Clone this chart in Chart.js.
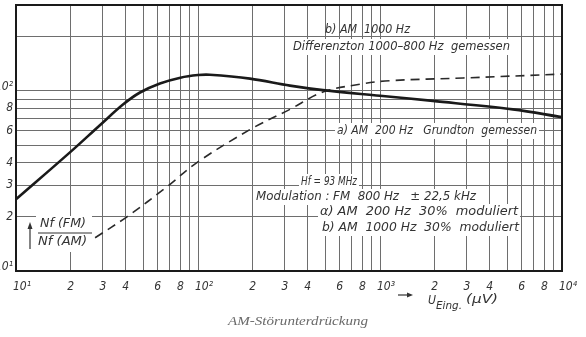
<!DOCTYPE html>
<html><head><meta charset="utf-8">
<script src="https://cdn.jsdelivr.net/npm/chart.js@4"></script>
<style>html,body{margin:0;padding:0;background:#fff}canvas{display:block}</style>
</head><body>
<canvas id="c" width="586" height="337"></canvas>
<script>
// Curve a) AM 200 Hz (solid)
const solidX = [10, 20, 28.9, 38.7, 48, 61.8, 80, 100, 116, 193, 320, 486, 1000, 1950, 5370, 10000];
const solidY = [25, 46, 64.5, 84, 98, 110, 118.5, 122.5, 123, 117, 107, 101, 94, 88, 79, 71.5];
// Curve b) AM 1000 Hz (dashed)
const dashX = [27.2, 40.7, 67.6, 98.6, 193, 320, 486, 777, 1135, 2860, 10000];
const dashY = [15.3, 20, 29.4, 40, 61, 79, 98.6, 109, 114, 118, 124];
// Tick labels
const xTickVals = [10,20,30,40,60,80,100,200,300,400,600,800,1000,2000,3000,4000,6000,8000,10000];
const xTickLabels = ['10¹','2','3','4','6','8','10²','2','3','4','6','8','10³','2','3','4','6','8','10⁴'];
const yTickVals = [10,20,30,40,60,80,100];
const yTickLabels = ['10¹','2','3','4','6','8','10²'];
// Grid lines
const xGridVals = [10,20,30,40,50,60,70,80,90,100,200,300,400,500,600,700,800,900,1000,2000,3000,4000,5000,6000,7000,8000,9000,10000];
const yGridVals = [10,20,30,40,50,60,70,80,90,100,200,300];

const pts = (xs, ys) => xs.map((x,i)=>({x, y: ys[i]}));
const LBL = 'italic 12px "DejaVu Sans Condensed","Liberation Sans Narrow","Liberation Sans",sans-serif';

function fitText(ctx, txt, x, y, w, font, bg) {
  ctx.save();
  ctx.font = font;
  const m = ctx.measureText(txt).width;
  if (bg) { ctx.fillStyle = '#fff'; ctx.fillRect(x-2, y-8, w+4, 16); }
  ctx.translate(x, y);
  ctx.scale(w / m, 1);
  ctx.fillStyle = '#333';
  ctx.textBaseline = 'middle';
  ctx.textAlign = 'left';
  ctx.fillText(txt, 0, 0);
  ctx.restore();
}

const deco = {
  id: 'deco',
  afterDraw(chart) {
    const ctx = chart.ctx, ca = chart.chartArea;
    const xs = chart.scales.x, ys = chart.scales.y;
    ctx.save();
    // frame
    ctx.strokeStyle = '#1a1a1a'; ctx.lineWidth = 2;
    ctx.strokeRect(ca.left, ca.top, ca.right - ca.left, ca.bottom - ca.top);
    // x tick labels
    ctx.font = 'italic 12px "DejaVu Sans Condensed","Liberation Sans",sans-serif';
    ctx.fillStyle = '#333';
    ctx.textBaseline = 'middle';
    xTickVals.forEach((v,i) => {
      const px = xs.getPixelForValue(v);
      const t = xTickLabels[i];
      if (t.length > 1) { ctx.textAlign = 'left'; ctx.fillText(t, px - 3, ca.bottom + 16); }
      else { ctx.textAlign = 'center'; ctx.fillText(t, px, ca.bottom + 16); }
    });
    // y tick labels
    ctx.textAlign = 'right';
    yTickVals.forEach((v,i) => {
      const py = ys.getPixelForValue(v);
      ctx.fillText(yTickLabels[i], 13, py - (i===0||i===6 ? 4 : 0));
    });
    // annotations
    fitText(ctx, 'b) AM  1000 Hz', 325, 30, 85, LBL, false);
    fitText(ctx, 'Differenzton 1000–800 Hz  gemessen', 293, 47, 217, LBL, true);
    fitText(ctx, 'a) AM  200 Hz   Grundton  gemessen', 337, 131, 200, LBL, true);
    fitText(ctx, 'Hf = 93 MHz', 301, 182, 56, 'italic 13px "DejaVu Sans Condensed","Liberation Sans",sans-serif', true);
    fitText(ctx, 'Modulation : FM  800 Hz   ± 22,5 kHz', 256, 197, 220, LBL, true);
    fitText(ctx, 'α) AM  200 Hz  30%  moduliert', 320, 212, 198, LBL, true);
    fitText(ctx, 'b) AM  1000 Hz  30%  moduliert', 322, 228, 197, LBL, true);
    // Nf fraction
    ctx.fillStyle = '#fff'; ctx.fillRect(36, 216, 56, 36);
    fitText(ctx, 'Nf (FM)', 40, 224, 46, LBL, false);
    fitText(ctx, 'Nf (AM)', 38, 242, 49, LBL, false);
    ctx.strokeStyle = '#333'; ctx.lineWidth = 1.2;
    ctx.beginPath(); ctx.moveTo(38, 233); ctx.lineTo(92, 233); ctx.stroke();
    ctx.beginPath(); ctx.moveTo(30, 249); ctx.lineTo(30, 226); ctx.stroke();
    ctx.fillStyle = '#333';
    ctx.beginPath(); ctx.moveTo(30, 222); ctx.lineTo(27.5, 229); ctx.lineTo(32.5, 229); ctx.closePath(); ctx.fill();
    // axis label arrow
    ctx.beginPath(); ctx.moveTo(398, 295); ctx.lineTo(410, 295); ctx.stroke();
    ctx.beginPath(); ctx.moveTo(413, 295); ctx.lineTo(407, 292.5); ctx.lineTo(407, 297.5); ctx.closePath(); ctx.fill();
    fitText(ctx, 'U', 428, 301, 8, LBL, false);
    fitText(ctx, 'Eing.', 436, 306, 26, 'italic 10px "DejaVu Sans Condensed","Liberation Sans",sans-serif', false);
    fitText(ctx, '(µV)', 466, 300, 32, LBL, false);
    // title
    ctx.save();
    ctx.font = 'italic 13px "Liberation Serif","DejaVu Serif",serif';
    const tt = 'AM-Störunterdrückung';
    const m = ctx.measureText(tt).width;
    ctx.translate(228, 322); ctx.scale(140 / m, 1);
    ctx.fillStyle = '#6a6a6a'; ctx.textBaseline = 'middle'; ctx.textAlign = 'left';
    ctx.fillText(tt, 0, 0);
    ctx.restore();
    ctx.restore();
  }
};

new Chart(document.getElementById('c'), {
  type: 'line',
  data: {
    datasets: [
      { data: pts(solidX, solidY), borderColor: '#1a1a1a', borderWidth: 2.6, pointRadius: 0, tension: 0.35, fill: false },
      { data: pts(dashX, dashY), borderColor: '#2a2a2a', borderWidth: 1.6, borderDash: [9, 6], pointRadius: 0, tension: 0.35, fill: false }
    ]
  },
  options: {
    responsive: false, animation: false, devicePixelRatio: 1,
    layout: { padding: { left: 16, right: 24, top: 5, bottom: 66 } },
    plugins: { legend: { display: false }, tooltip: { enabled: false } },
    scales: {
      x: {
        type: 'logarithmic', min: 10, max: 10000,
        afterBuildTicks: s => { s.ticks = xGridVals.map(v => ({ value: v })); },
        ticks: { display: false },
        grid: { color: '#6e6e6e', lineWidth: 1, drawTicks: false },
        border: { display: false }
      },
      y: {
        type: 'logarithmic', min: 10, max: 300,
        afterBuildTicks: s => { s.ticks = yGridVals.map(v => ({ value: v })); },
        ticks: { display: false },
        grid: { color: '#6e6e6e', lineWidth: 1, drawTicks: false },
        border: { display: false }
      }
    }
  },
  plugins: [deco]
});
</script>
</body></html>
